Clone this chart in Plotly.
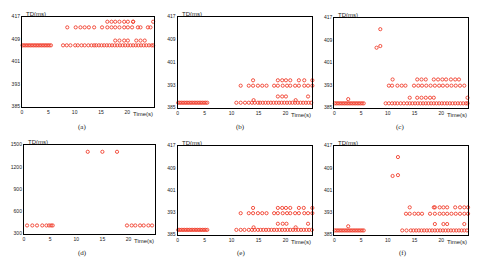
import plotly.graph_objects as go

W, H = 480, 263

# ---------------- data (time in s, TD in ms) ----------------
DENSE_START = [0.1, 0.4, 0.7, 1.0, 1.3, 1.6, 1.9, 2.2, 2.5, 2.8, 3.1, 3.4, 3.7, 4.0,
               4.3, 4.6, 4.9, 5.2, 5.5]

# panel (a)
A_LEVELS = [406.8, 408.5, 413.2, 415.2]
A_TIMES = [
    DENSE_START + [7.8, 8.5, 9.2, 10.1, 10.6, 11.3, 11.9, 12.6, 13.2, 13.7, 14.1, 14.6,
                   15.1, 15.6, 16.1, 16.6, 17.1, 17.6, 18.1, 18.6, 19.1, 19.6, 20.1, 20.6,
                   21.1, 21.6, 22.1, 22.6, 23.1, 23.6, 24.1, 24.6, 24.9],
    [17.7, 18.5, 19.4, 20.1, 21.7, 22.5, 23.3],
    [8.6, 10.2, 11.1, 11.9, 12.7, 13.7, 15.2, 16.2, 17.0, 17.7, 18.5, 19.4, 20.1, 20.9,
     22.0, 22.5, 23.9, 24.4],
    [16.2, 17.0, 17.7, 18.5, 19.4, 20.1, 21.1, 21.1, 24.9],
]

# panel (b)
B_LEVELS = [386.7, 387.6, 388.9, 392.7, 394.6]
B_TIMES = [
    DENSE_START + [10.9, 11.7, 12.5, 13.2, 13.8, 14.3, 14.9, 15.3, 15.8, 16.3, 16.8, 17.3,
                   17.8, 18.3, 18.8, 19.3, 19.8, 20.3, 20.8, 21.3, 21.8, 22.3, 22.8, 23.3,
                   23.8, 24.3, 24.8],
    [14.1, 21.9],
    [18.6, 19.4, 20.1, 24.2],
    [11.7, 13.2, 14.0, 14.9, 15.7, 16.5, 17.9, 18.6, 19.5, 20.3, 20.9, 21.8, 22.5, 23.5,
     24.2, 25.0],
    [14.0, 18.6, 19.4, 20.1, 20.9, 22.5, 23.5, 25.0],
]

# panel (c)
C_LEVELS = [386.5, 388.0, 388.5, 392.8, 395.0, 406.3, 406.9, 412.9]
C_TIMES = [
    DENSE_START + [9.6, 10.2, 10.8, 11.3, 11.8, 12.4, 13.0, 13.6, 14.1, 14.6, 15.1, 15.6,
                   16.1, 16.6, 17.1, 17.6, 18.1, 18.6, 19.1, 19.6, 20.1, 20.6, 21.1, 21.6,
                   22.1, 22.6, 23.1, 23.6, 24.1, 24.6, 24.9],
    [2.6],
    [14.1, 15.5, 16.3, 17.1, 17.9, 18.6, 24.9],
    [10.2, 10.8, 11.8, 12.6, 13.3, 14.9, 15.7, 16.4, 17.2, 18.0, 18.8, 19.6, 20.3, 21.1,
     21.9, 22.7, 23.5, 24.3],
    [10.9, 15.5, 16.3, 17.1, 18.6, 19.4, 20.2, 20.9, 21.8, 22.6, 23.3],
    [7.9],
    [8.6],
    [8.6],
]

# panel (d)
D_LEVELS = [410, 1404]
D_TIMES = [
    [0.6, 1.6, 2.5, 3.5, 4.3, 4.8, 5.2, 5.5, 19.7, 20.6, 21.3, 22.2, 22.9, 23.8, 24.5],
    [12.2, 15.0, 17.8],
]

# panel (e)
E_LEVELS = [386.7, 387.6, 388.9, 392.7, 394.6]
E_TIMES = [
    DENSE_START + [10.9, 11.7, 12.4, 13.2, 13.8, 14.3, 14.9, 15.4, 15.9, 16.4, 16.9, 17.4,
                   17.9, 18.4, 18.9, 19.4, 19.9, 20.4, 20.9, 21.4, 21.9, 22.4, 22.9, 23.4,
                   23.9, 24.4, 24.9],
    [14.1, 21.9],
    [18.6, 19.5, 20.2, 24.2],
    [11.7, 13.2, 14.0, 14.9, 15.7, 16.5, 17.9, 18.6, 19.5, 20.3, 20.9, 21.8, 22.5, 23.5,
     24.2, 25.0],
    [14.0, 18.6, 19.4, 20.1, 20.9, 22.5, 23.4, 25.0],
]

# panel (f)
F_LEVELS = [386.5, 388.0, 388.8, 392.5, 394.8, 406.1, 406.4, 412.9]
F_TIMES = [
    DENSE_START + [12.7, 13.5, 14.3, 14.8, 15.3, 15.8, 16.3, 16.8, 17.3, 17.8, 18.3, 18.8,
                   19.3, 19.8, 20.3, 20.8, 21.3, 21.8, 22.3, 22.8, 23.3, 23.8, 24.3, 24.8],
    [2.6],
    [18.8, 20.4, 21.1, 24.3],
    [13.4, 14.1, 15.0, 15.7, 16.4, 17.9, 18.8, 19.7, 20.4, 21.1, 21.9, 22.7, 23.5, 24.3,
     25.0],
    [14.1, 18.6, 18.8, 19.7, 20.4, 21.1, 22.6, 23.5, 24.3, 25.0],
    [10.9],
    [11.9],
    [11.9],
]

X_TICKS = [0, 5, 10, 15, 20]
Y_TICKS_MS = [385, 393, 401, 409, 417]
Y_TICKS_D = [300, 600, 900, 1200, 1500]
PANEL_NAMES = ["(a)", "(b)", "(c)", "(d)", "(e)", "(f)"]

# ---------------- layout ----------------
# plot boxes in pixels: (left, right, top, bottom)
BOXES = [(21, 153, 14, 106), (177, 312, 14, 107), (334, 468, 15, 107),
         (23, 154, 145, 236), (177, 312, 146, 237), (334, 468, 146, 237)]
LABEL_POS = [(81, 127), (240, 127), (400, 127), (82, 256), (240, 256), (403, 256)]

panels = [(A_LEVELS, A_TIMES), (B_LEVELS, B_TIMES), (C_LEVELS, C_TIMES),
          (D_LEVELS, D_TIMES), (E_LEVELS, E_TIMES), (F_LEVELS, F_TIMES)]

RED = "#f0402e"
TICKFONT = dict(family="Liberation Sans, Arial, sans-serif", size=5, color="#222222")

fig = go.Figure()
layout = dict(width=W, height=H, margin=dict(l=0, r=0, t=0, b=0),
              paper_bgcolor="white", plot_bgcolor="white", showlegend=False)
annotations = []

for i, ((levels, times), box) in enumerate(zip(panels, BOXES)):
    n = "" if i == 0 else str(i + 1)
    xs, ys = [], []
    for lev, ts in zip(levels, times):
        xs += ts
        ys += [lev] * len(ts)
    fig.add_trace(go.Scatter(
        x=xs, y=ys, mode="markers", xaxis="x" + n, yaxis="y" + n,
        marker=dict(symbol="circle-open", size=3.2, color=RED, line=dict(width=0.9, color=RED)),
        hoverinfo="skip", cliponaxis=False))
    l, r, t, b = box
    is_d = (i == 3)
    yt = Y_TICKS_D if is_d else Y_TICKS_MS
    layout["xaxis" + n] = dict(
        domain=[l / W, r / W], anchor="y" + n, range=[0, 25],
        tickvals=X_TICKS, ticktext=[str(v) for v in X_TICKS], tickfont=TICKFONT,
        showline=True, mirror=True, linecolor="black", linewidth=1,
        showgrid=False, zeroline=False, ticks="", ticklen=0)
    layout["yaxis" + n] = dict(
        domain=[1 - b / H, 1 - t / H], anchor="x" + n,
        range=[yt[0], yt[-1]],
        tickvals=yt, ticktext=[str(v) for v in yt], tickfont=TICKFONT,
        showline=True, mirror=True, linecolor="black", linewidth=1,
        showgrid=False, zeroline=False, ticks="", ticklen=0)
    annotations.append(dict(x=(l + 2) / W, y=1 - (t - 2.5) / H, xref="paper", yref="paper",
                            text="TD(ms)", showarrow=False, xanchor="left", yanchor="middle",
                            font=dict(family="Liberation Sans, Arial, sans-serif", size=6,
                                      color="#222222")))
    annotations.append(dict(x=(r + 1) / W, y=1 - (b + 8) / H, xref="paper", yref="paper",
                            text="Time(s)", showarrow=False, xanchor="right", yanchor="middle",
                            font=dict(family="Liberation Sans, Arial, sans-serif", size=6,
                                      color="#222222")))
    lx, ly = LABEL_POS[i]
    annotations.append(dict(x=lx / W, y=1 - ly / H, xref="paper", yref="paper",
                            text=PANEL_NAMES[i], showarrow=False, xanchor="center",
                            yanchor="middle",
                            font=dict(family="Liberation Serif, Times New Roman, serif",
                                      size=7, color="#222222")))

layout["annotations"] = annotations
fig.update_layout(**layout)
fig.write_html("out.html")
